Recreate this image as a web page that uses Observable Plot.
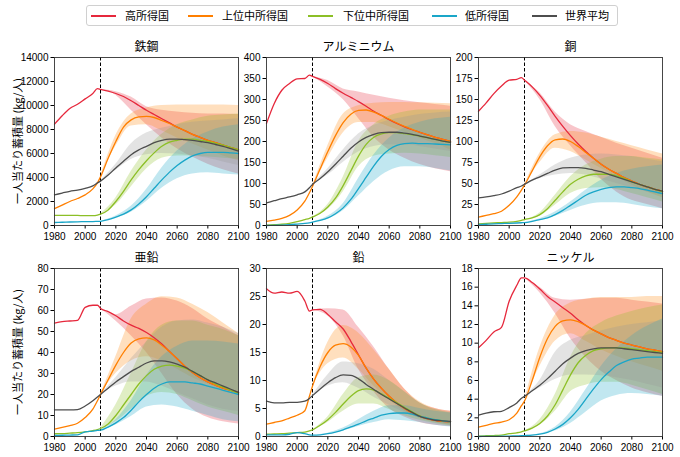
<!DOCTYPE html>
<html><head><meta charset="utf-8">
<script src="https://cdn.jsdelivr.net/npm/d3@7"></script>
<script src="https://cdn.jsdelivr.net/npm/@observablehq/plot@0.6"></script>
<style>
body{margin:0;background:#fff;font-family:"Noto Sans CJK JP",sans-serif;}
#root{position:relative;width:680px;height:457px;overflow:hidden;background:#fff;}
.ylab{position:absolute;transform:translate(-50%,-50%) rotate(-90deg);white-space:nowrap;font-size:11px;color:#000;}
.lgbox{position:absolute;border:1px solid #d0d0d0;border-radius:3px;box-sizing:border-box;}
.lgline{position:absolute;height:2px;}
.lgtext{position:absolute;font-size:11px;line-height:11px;white-space:nowrap;color:#000;}
</style>
</head><body><div id="root"></div>
<script>
const groups = ["高所得国","上位中所得国","下位中所得国","低所得国","世界平均"];
const lineColors = ["#e6283c","#ff7f00","#8cbf26","#1aa6c8","#4d4d4d"];
const bandColors = ["#e6283c","#ff8a10","#8cbf26","#1aa6c8","#999999"];
const metals = ["鉄鋼","アルミニウム","銅","亜鉛","鉛","ニッケル"];
const yMax = [14000,400,200,80,30,18];
const yStep = [2000,50,25,10,5,2];
const xTicks = [1980,2000,2020,2040,2060,2080,2100];
const lineYears = [1980,1985,1990,1995,2000,2005,2008,2010,2015,2020,2025,2030,2035,2040,2045,2050,2055,2060,2065,2070,2075,2080,2085,2090,2095,2100];
const bandYears = [2010,2020,2030,2040,2050,2060,2070,2080,2090,2100];

// 鉄鋼
const steelLine = [
 [8450,9150,9750,10100,10550,11000,11400,11350,11200,11000,10750,10400,10000,9600,9250,8900,8550,8200,7900,7600,7350,7100,6900,6700,6500,6300],
 [1400,1700,2000,2250,2550,3050,3550,4050,5600,7000,8200,8800,9050,9100,9000,8750,8500,8200,7900,7600,7350,7100,6900,6700,6500,6300],
 [850,850,850,840,820,820,870,950,1300,2000,2850,3800,4650,5400,6050,6600,6950,7100,7200,7200,7100,7000,6850,6700,6500,6300],
 [250,270,290,310,320,330,340,350,480,700,950,1300,1800,2400,3100,3800,4450,5000,5450,5800,6000,6100,6100,6100,6050,6000],
 [2550,2700,2850,2950,3100,3300,3550,3700,4200,4800,5350,5900,6300,6600,6900,7100,7200,7200,7150,7100,7000,6900,6750,6600,6400,6200]];
const steelLo = [
 [11350,10850,9600,8400,7300,6400,5700,5100,4650,4300],
 [4050,6600,8300,8400,7900,7300,6800,6300,5800,5400],
 [950,1700,3200,4700,5600,5800,5800,5700,5600,5500],
 [350,600,1100,2000,3100,3900,4300,4400,4300,4200],
 [3700,4600,5500,5900,6000,5950,5800,5600,5300,5000]];
const steelHi = [
 [11350,11150,10700,9900,9600,9450,9350,9300,9300,9250],
 [4050,7500,9300,9800,10000,10050,10050,10050,10050,10000],
 [950,2300,4500,6300,7600,8400,8800,9100,9200,9300],
 [350,800,1600,3000,4800,6200,7200,7800,8200,8400],
 [3700,5100,6800,7700,8100,8400,8600,8700,8800,8900]];

// アルミニウム
const alumLine = [
 [243,290,322,338,349,350,358,355,348,338,326,315,305,295,284,272,262,252,243,235,228,222,216,210,205,200],
 [10,13,17,24,37,58,78,93,135,176,214,245,265,274,275,270,262,253,244,236,229,222,216,210,205,200],
 [1,2,3,5,9,14,17,20,29,44,65,95,130,165,193,210,218,221,221,219,216,213,209,205,201,198],
 [0,0.5,1,2,3.5,5,6.5,8,12,18,28,42,62,88,115,142,165,181,191,195,196,195,195,194,193,192],
 [54,59,64,68,73,80,90,98,112,128,146,165,184,199,210,217,221,222,222,220,217,213,209,205,201,198]];
const alumLo = [
 [355,330,300,255,210,180,160,145,135,128],
 [93,160,220,245,245,235,222,208,195,180],
 [20,38,80,140,165,170,172,170,166,162],
 [8,15,35,70,105,130,140,140,136,130],
 [98,120,150,175,188,192,192,188,182,176]];
const alumHi = [
 [355,345,325,318,310,303,297,292,288,284],
 [93,190,265,285,291,293,293,292,291,290],
 [20,50,115,200,240,260,270,275,275,275],
 [8,22,52,112,168,208,232,246,254,258],
 [98,135,180,218,238,250,258,264,268,270]];

// 銅
const copperLine = [
 [136,146,157,166,173,174,176,173,165,155,143,130,118,107,97,88,80,73,67,62,57,53,49,46,43,41],
 [10,12,14,17,24,34,42,48,65,82,95,102,103,100,94,87,80,73,67,62,57,53,49,46,43,41],
 [2,2.5,3,3.5,4,5,6,7,9,13,20,30,40,49,55,59,61,61,61,59,56,52,49,46,43,40],
 [1,1.5,2,2.3,2.6,3,3.3,3.5,5,7,9,13,18,24,30,36,40,43,45,46,46,45,44,42,40,38],
 [33,34,35.5,37.5,41,45,47,49,54,58,62,66,68.5,69,69,68,66,64,61,58,55,52,49,46,43,41]];
const copperLo = [
 [173,150,118,95,75,55,40,30,25,20],
 [48,75,92,88,78,68,58,48,40,33],
 [7,11,24,38,44,45,43,38,33,28],
 [3.5,6,11,18,24,27,27,25,22,20],
 [49,56,60,62,60,55,50,45,40,36]];
const copperHi = [
 [173,158,135,120,112,105,98,92,86,80],
 [48,86,108,112,110,105,100,95,90,85],
 [7,15,36,58,72,79,82,82,80,78],
 [3.5,8,16,28,42,54,62,67,70,72],
 [49,60,72,80,84,85,84,82,79,76]];

// 亜鉛
const zincLine = [
 [54,54.7,55,55.3,61.5,62.5,62.5,61,59.5,57.5,55,53,51.5,49.5,47,44,40.5,37,33.5,30.5,28,26,24.5,23,22,21],
 [3.5,4.3,5.2,6.3,9,13,17,20,27,34,40,44.5,46.5,47,46,43.5,40.5,37,33.5,30.5,28,26,24.5,23,22,21],
 [1.3,1.4,1.6,1.8,2.2,2.8,3.3,3.8,6,10,15,20,25,29,32,33.5,34,33.5,32.5,31,29,27,25,23.5,22,20.5],
 [0.5,0.6,0.7,0.8,2.2,2.6,2.9,3,4.5,6.5,9,12.5,16.5,20,23,25,26,26,26,25.5,25,24,23,22,21,20],
 [12.7,12.7,12.7,12.8,14.5,17,18.8,20,23,26,28.5,31,33,35,36,36,35.5,34.5,33,31,29,27,25.5,24,22.5,21]];
const zincLo = [
 [61,55,48,40,30,20,13,9,7,6],
 [20,30,36,38,36,32,28,25,22,20],
 [3.8,7,13,19,21,20,17,14,12,10],
 [3,5.5,9.5,14,15,14,12,10,8,7],
 [20,24,26,26,24,21,18,15,13,12]];
const zincHi = [
 [61,58,62,65.5,66,64.5,61,56,52,48],
 [20,38,56,63,66.5,66,63,59,54,49],
 [3.8,15,30,45,53,55,55,53,51,48],
 [3,8,17,29,38,43,45.5,45.5,45,44],
 [20,28,37,45,52,55,55.5,54,52,49]];

// 鉛
const leadLine = [
 [26.4,25.6,25.8,25.6,25.9,24.2,22.4,22.6,22.7,21.8,20.5,19.2,17,14.6,12.2,10.2,8.6,7.2,6,5,4.2,3.6,3.2,2.9,2.7,2.6],
 [2.2,2.5,2.8,3.3,3.8,4.6,7.2,9,12.5,15,16.3,16.6,16,14.5,12.2,10.2,8.6,7.2,6,5,4.2,3.6,3.2,2.9,2.7,2.6],
 [0.4,0.45,0.5,0.6,0.7,0.8,1,1.2,2,3,4.3,5.8,7.2,8.2,8.5,8.3,7.6,6.8,6,5.2,4.4,3.7,3.3,3,2.8,2.6],
 [0.3,0.3,0.3,0.4,0.7,0.5,0.3,0.25,0.3,0.5,0.8,1.2,1.7,2.2,2.8,3.3,3.8,4.1,4.2,4.2,4,3.6,3.3,3,2.8,2.6],
 [6.3,6.0,6.0,6.1,6.1,6.3,6.8,7.3,8.5,9.6,10.5,11,10.9,10.3,9.3,8.4,7.5,6.7,5.9,5.1,4.3,3.6,3.2,2.9,2.8,2.7]];
const leadLo = [
 [22.6,21.5,18,12,8,5,3.5,2.5,2,1.8],
 [9,13,14,12,9,6.5,4.5,3.2,2.5,2],
 [1.2,2.5,4.5,5.8,5.8,4.8,3.7,2.9,2.3,1.9],
 [0.25,0.4,1,1.8,2.5,3,2.8,2.5,2,1.7],
 [7.3,9,9.6,8.6,7,5.6,4.3,3.3,2.6,2.1]];
const leadHi = [
 [22.6,22.8,22.6,19.5,16,12,8.5,6,5,4.5],
 [9,16.8,19.8,18.5,15.5,12,8.5,6.2,5,4.5],
 [1.2,3.5,7.5,10.5,11,10,8,6,4.8,4.2],
 [0.25,0.6,1.5,3,4.5,5.5,5.5,5,4.5,4.2],
 [7.3,11,13.3,13,12,10,8,6,4.8,4.3]];

// ニッケル
const nickelLine = [
 [9.5,10.3,11.2,11.7,14.5,16.2,17,17,16.5,15.8,15,14.4,13.8,13.2,12.5,11.9,11.4,11,10.6,10.3,10,9.8,9.6,9.4,9.25,9.1],
 [1.0,1.2,1.4,1.55,1.8,2.5,3.3,3.8,6,8.5,10.5,11.8,12.4,12.5,12.3,11.9,11.4,11,10.6,10.3,10,9.8,9.6,9.4,9.25,9.1],
 [0.05,0.08,0.1,0.15,0.3,0.4,0.5,0.6,0.9,1.4,2.2,3.4,5,6.6,7.9,8.7,9.2,9.4,9.5,9.5,9.5,9.4,9.3,9.2,9.1,9.0],
 [0,0.01,0.02,0.03,0.05,0.07,0.08,0.1,0.15,0.25,0.45,0.8,1.3,2,2.9,4,5.1,6.1,6.9,7.6,8,8.3,8.4,8.5,8.5,8.5],
 [2.3,2.5,2.65,2.7,3.1,3.6,4.1,4.3,4.9,5.5,6.2,7,7.8,8.4,8.9,9.2,9.4,9.5,9.5,9.5,9.4,9.3,9.2,9.1,9.0,8.9]];
const nickelLo = [
 [17,15.4,13.2,10.5,8.5,7,6,5.2,4.7,4.3],
 [3.8,7.5,10.2,11,10.2,9.3,8.6,8,7.5,7],
 [0.6,1.2,2.7,4.8,5.5,5.8,5.8,5.5,5,4.5],
 [0.1,0.2,0.6,1.4,2.6,3.8,4.4,4.6,4.5,4.3],
 [4.3,5.2,6.1,6.6,6.6,6.5,6.3,6,5.6,5.2]];
const nickelHi = [
 [17,16,14.8,14.6,14.7,14.8,14.8,14.6,14.4,14.2],
 [3.8,9.5,13,14.3,14.7,14.9,14.9,14.9,15,15],
 [0.6,1.8,4.5,8.5,11,12.2,12.9,13.4,13.8,14.1],
 [0.1,0.3,1,2.6,5,7.5,9.4,10.8,11.8,12.6],
 [4.3,6,9,10.3,10.8,11.3,11.7,12,12.2,12.4]];

const lineSets = [steelLine, alumLine, copperLine, zincLine, leadLine, nickelLine];
const loSets = [steelLo, alumLo, copperLo, zincLo, leadLo, nickelLo];
const hiSets = [steelHi, alumHi, copperHi, zincHi, leadHi, nickelHi];

const root = document.getElementById("root");
const CJK = '"Noto Sans CJK JP", sans-serif';
const TICKFONT = '"Liberation Sans", Arial, sans-serif';

// layout
const frameLefts = [54, 266, 478];
const frameTops = [57, 268];
const frameW = 184, frameHs = [168, 168];
const ML = 45, MR = 10, MT = 30, MB = 25;

function makePanel(i) {
  const r = Math.floor(i / 3), c = i % 3;
  const lines = lineSets[i], los = loSets[i], his = hiSets[i];
  const marks = [];
  groups.forEach((g, k) => {
    const band = bandYears.map((yr, j) => ({year: yr, lo: los[k][j], hi: his[k][j]}));
    marks.push(Plot.areaY(band, {x: "year", y1: "lo", y2: "hi", fill: bandColors[k], fillOpacity: 0.27, curve: "monotone-x"}));
  });
  marks.push(Plot.ruleX([2010], {stroke: "#000", strokeWidth: 1, strokeDasharray: "3.5,2"}));
  groups.forEach((g, k) => {
    const ln = lineYears.map((yr, j) => ({year: yr, v: lines[k][j]}));
    marks.push(Plot.line(ln, {x: "year", y: "v", stroke: lineColors[k], strokeWidth: 1.3, curve: "monotone-x"}));
  });
  marks.push(Plot.frame({stroke: "#333", strokeWidth: 0.9}));
  marks.push(Plot.text([metals[i]], {frameAnchor: "top", dy: -10, lineAnchor: "middle", fontSize: 12, fill: "#000", fontFamily: CJK}));
  const yt = d3.range(0, yMax[i] + yStep[i] / 2, yStep[i]);
  const svg = Plot.plot({
    width: ML + frameW + MR,
    height: MT + frameHs[r] + MB,
    marginLeft: ML, marginRight: MR, marginTop: MT, marginBottom: MB,
    x: {domain: [1980, 2100], ticks: xTicks, tickFormat: d => String(d), label: null, tickSize: 3.5, tickPadding: 4},
    y: {domain: [0, yMax[i]], ticks: yt, tickFormat: d => String(d), label: null, tickSize: 3.5, tickPadding: 2.5},
    style: {background: "transparent", overflow: "visible", fontFamily: TICKFONT, fontSize: "10px", color: "#000"},
    marks
  });
  svg.style.position = "absolute";
  svg.style.left = (frameLefts[c] - ML) + "px";
  svg.style.top = (frameTops[r] - MT) + "px";
  svg.style.maxWidth = "none";
  root.appendChild(svg);
}
for (let i = 0; i < 6; i++) makePanel(i);

// y labels
const yLabel = "一人当たり蓄積量 (kg/人)";
[141, 352].forEach(cy => {
  const d = document.createElement("div");
  d.className = "ylab";
  d.style.left = "17px";
  d.style.top = cy + "px";
  d.textContent = yLabel;
  root.appendChild(d);
});

// legend
const box = document.createElement("div");
box.className = "lgbox";
Object.assign(box.style, {left: "86px", top: "5px", width: "532px", height: "21px"});
root.appendChild(box);
const lgLineX = [91, 188, 308, 432, 532];
const lgTextX = [125, 222, 343, 465, 565];
groups.forEach((g, k) => {
  const l = document.createElement("div");
  l.className = "lgline";
  Object.assign(l.style, {left: lgLineX[k] + "px", top: "14.5px", width: "25px", background: lineColors[k]});
  root.appendChild(l);
  const t = document.createElement("div");
  t.className = "lgtext";
  Object.assign(t.style, {left: lgTextX[k] + "px", top: "10px"});
  t.textContent = g;
  root.appendChild(t);
});
</script>
</body></html>
